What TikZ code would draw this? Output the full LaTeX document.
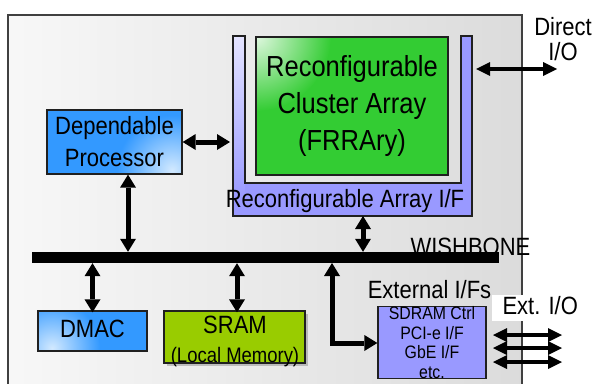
\documentclass[tikz,border=0pt]{standalone}
\usepackage{fontspec}
\setmainfont[FakeStretch=0.88]{Liberation Sans}
\usetikzlibrary{arrows.meta,shadows}
\definecolor{lav}{HTML}{9999FF}
\definecolor{lavlight}{HTML}{E4E4FF}
\definecolor{grn}{HTML}{33CC33}
\definecolor{blu}{HTML}{3399FF}
\definecolor{blulight}{HTML}{D2E9FF}
\definecolor{lime}{HTML}{99CC00}
\definecolor{edge}{HTML}{202020}
\tikzset{
  boxst/.style={draw=edge, line width=1.3pt, inner sep=0pt, align=center},
  dbl/.style={line width=5pt, {Triangle[width=16pt,length=13pt,line width=0pt]}-{Triangle[width=16pt,length=13pt,line width=0pt]}},
  dblthin/.style={line width=3.2pt, {Triangle[width=14pt,length=14pt,line width=0pt]}-{Triangle[width=14pt,length=14pt,line width=0pt]}},
  lbl/.style={inner sep=0pt, anchor=base, font=\fontsize{25}{25}\selectfont}
}
\begin{document}
\begin{tikzpicture}[x=1pt,y=-1pt]
\useasboundingbox (0,0) rectangle (593,383);
% outer board
\begin{scope}
\clip (0,0) rectangle (593,383);
\shade[left color=black!3, right color=black!14, draw=black!75, line width=1.3pt] (8,15) rectangle (522,395);
\end{scope}
% Reconfigurable array I/F (U shape)
\fill[lav] (233,36) -- (245,36) -- (245,183) -- (461,183) -- (461,36) -- (472,36) -- (472,216) -- (233,216) -- cycle;
\shade[top color=lavlight, bottom color=lav] (233,36) rectangle (245,200);
\draw[edge, line width=1.3pt] (233,36) -- (245,36) -- (245,183) -- (461,183) -- (461,36) -- (472,36) -- (472,216) -- (233,216) -- cycle;
\node[lbl] (railbl) at (345,207) {Reconfigurable Array I/F};
\coordinate (uL) at (230,142);
\coordinate (uB) at (363,216);
\coordinate (uR) at (476,69);
% green cluster array
\begin{scope}
\clip (256,36) rectangle (448,174);
\fill[grn] (256,36) rectangle (448,174);
\shade[inner color=white!85!grn, outer color=grn] (256,36) circle (75);
\end{scope}
\node[boxst, minimum width=192pt, minimum height=138pt, font=\fontsize{29}{37}\selectfont] (frr) at (352,106) {Reconfigurable\\Cluster Array\\(FRRAry)};
% dependable processor
\begin{scope}
\clip (47,110) rectangle (182,174);
\fill[blu] (47,110) rectangle (182,174);
\shade[inner color=blulight, outer color=blu] (172,170) circle (55);
\end{scope}
\node[boxst, minimum width=135pt, minimum height=64pt, font=\fontsize{25}{32}\selectfont] (proc) at (114.5,142) {Dependable\\Processor};
% DMAC
\begin{scope}
\clip (38,311) rectangle (147,351);
\fill[blu] (38,311) rectangle (147,351);
\shade[inner color=blulight, outer color=blu] (52,348) circle (48);
\end{scope}
\node[boxst, minimum width=109pt, minimum height=40pt, text depth=5pt, font=\fontsize{25}{25}\selectfont] (dmac) at (92.5,331) {DMAC};
% SRAM
\node[boxst, fill=lime, drop shadow={shadow xshift=3pt, shadow yshift=-3pt, opacity=0.35, fill=black!60}, minimum width=141pt, minimum height=52pt] (sram) at (234.5,337) {};
\node[lbl] (sramt) at (235,333) {SRAM};
\node[inner sep=0pt, anchor=base, font=\fontsize{21}{21}\selectfont] (sramt2) at (235,362) {(Local Memory)};
% external I/Fs
\node[boxst, fill=lav, minimum width=108pt, minimum height=71pt, font=\fontsize{18}{19.6}\selectfont] (ext) at (432,342.5) {SDRAM Ctrl\\PCI-e I/F\\GbE I/F\\etc.};
\node[lbl] (extl) at (429.5,298) {External I/Fs};
% bus
\node[lbl] (wb) at (470.5,255) {WISHBONE};
\node[fill=black, inner sep=0pt, minimum width=467pt, minimum height=11pt] (bus) at (265.5,257.5) {};
% labels on right
\node[fill=white, inner sep=0pt, minimum width=90pt, minimum height=26pt, text depth=4pt, font=\fontsize{25}{25}\selectfont, anchor=west] (extio) at (492,307.5) {~Ext. I/O};
\node[inner sep=0pt, anchor=north, align=center, font=\fontsize{25}{25}\selectfont] (dio) at (563,17) {Direct\\I/O};
\coordinate (dioend) at (557,69);
% arrow end points
\coordinate (pS) at ([xshift=13.5pt]proc.south);
\coordinate (dN) at ([yshift=-2pt]dmac.north);
\coordinate (sN) at ([xshift=2.5pt,yshift=-2pt]sram.north);
\coordinate (busx) at (332,263);
\coordinate (bend) at (332,343);
% arrows
\draw[dbl] (proc.east) -- (uL);
\draw[dbl] (pS) -- (pS |- bus.north);
\draw[dbl] (uB) -- (uB |- bus.north);
\draw[dbl] (dN |- bus.south) -- (dN);
\draw[dbl] (sN |- bus.south) -- (sN);
\draw[dbl] (busx) -- (bend) -- (ext.west |- bend);
\draw[dblthin, line width=4pt] (uR) -- (dioend);
\coordinate (e1) at (493,335); \coordinate (e1b) at (562,335);
\coordinate (e2) at (493,348); \coordinate (e2b) at (562,348);
\coordinate (e3) at (493,362); \coordinate (e3b) at (562,362);
\draw[dblthin] (e1) -- (e1b);
\draw[dblthin] (e2) -- (e2b);
\draw[dblthin] (e3) -- (e3b);
\end{tikzpicture}
\end{document}
